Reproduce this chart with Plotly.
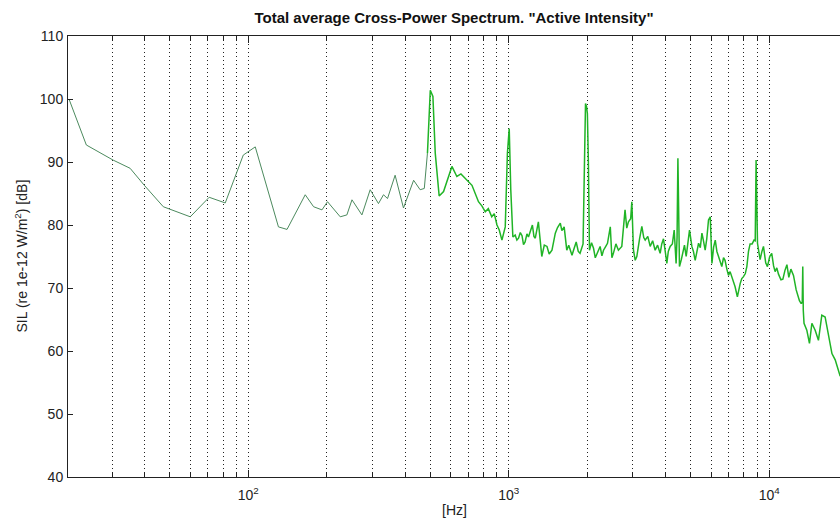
import plotly.graph_objects as go

# ---- data (frequency in Hz, SIL in dB) ----
freq_low = [20.5, 23.9, 30.3, 35.2, 39.9, 47.2, 59.9, 70.8, 81.6, 95.7, 106.4,
            130.6, 140.9, 165.5, 178.2, 191.9, 201.5, 225.5, 239.2, 250.2, 273.2,
            293.9, 316.2, 330.6, 342.6, 366.4, 394.5, 431.5, 457.1, 474.2, 487.6]
sil_low = [100.0, 92.7, 90.3, 89.0, 86.3, 82.9, 81.3, 84.4, 83.5, 91.1, 92.4,
           79.7, 79.3, 84.8, 82.9, 82.4, 83.7, 81.3, 81.6, 84.0, 81.6,
           85.6, 83.4, 84.8, 84.2, 87.9, 82.7, 87.1, 85.6, 85.8, 91.4]

freq_high = [487.6, 500.0, 511.7, 522.4, 540.8, 562.3, 605.3, 632.4, 655.6, 691.8,
             722.8, 765.6, 790, 812.8, 835, 861, 880, 901.6, 920, 941.9, 970.0,
             988.6, 1004.6, 1018.6, 1037.6, 1059, 1075, 1091, 1108, 1125, 1140,
             1156, 1175, 1191, 1210, 1233, 1250, 1265, 1300, 1320, 1340, 1370,
             1403, 1430, 1466, 1510, 1540, 1578, 1600, 1633, 1671, 1700, 1750,
             1780, 1816, 1850, 1879, 1930, 1950, 1972, 1990, 2005, 2023, 2042,
             2080, 2117, 2150, 2182, 2244, 2280, 2312, 2350, 2395, 2455, 2490,
             2523, 2580, 2638, 2718, 2797, 2840, 2882, 2940, 2970, 3013, 3060,
             3104, 3180, 3245, 3300, 3342, 3420, 3493, 3570, 3650, 3730, 3815,
             3870, 3929, 4000, 4047, 4100, 4168, 4250, 4319, 4393, 4430, 4463,
             4526, 4600, 4667, 4730, 4802, 4870, 4946, 5050, 5120, 5200, 5280,
             5358, 5440, 5520, 5600, 5680, 5760, 5850, 5940, 6030, 6120, 6210,
             6300, 6390, 6480, 6580, 6680, 6770, 6880, 6980, 7080, 7190, 7300,
             7400, 7550, 7650, 7740, 7850, 7970, 8100, 8210, 8330, 8450, 8600,
             8750, 8840, 8910, 9020, 9230, 9380, 9510, 9700, 9850, 10050, 10230,
             10400, 10540, 10700, 10860, 11100, 11290, 11500, 11700, 11900, 12120,
             12400, 12700, 13070, 13280, 13400, 13460, 13520, 13610, 13950, 14280,
             14590, 15020, 15460, 15930, 16400, 16900, 17420, 17930, 18460, 18740]
sil_high = [91.4, 101.4, 100.4, 91.4, 84.6, 85.3, 89.3, 87.7, 88.1, 87.1,
            86.3, 83.7, 83.0, 82.1, 82.6, 81.3, 81.8, 80.0, 79.2, 77.6, 79.7,
            91.4, 95.3, 85.6, 78.1, 78.4, 77.6, 77.9, 78.8, 78.3, 76.9,
            77.3, 78.6, 78.1, 79.0, 80.0, 78.2, 77.9, 80.5, 77.0, 75.0, 76.8,
            76.6, 75.4, 76.0, 78.7, 79.6, 80.3, 79.1, 79.7, 76.0, 76.8, 75.2,
            76.2, 77.3, 75.8, 75.5, 77.0, 89.3, 99.3, 98.8, 97.7, 89.8, 76.0,
            77.2, 76.3, 74.8, 75.5, 76.6, 75.1, 76.0, 76.5, 77.1, 79.7, 74.8,
            75.5, 77.0, 76.0, 76.6, 82.4, 79.5, 80.5, 81.0, 83.7, 76.0, 74.4,
            75.0, 77.8, 79.8, 78.0, 77.6, 78.2, 76.6, 77.5, 76.0, 76.8, 75.5,
            77.0, 77.8, 75.5, 73.9, 75.8, 76.6, 77.0, 79.2, 73.9, 78.0, 90.6,
            73.4, 74.5, 75.5, 76.8, 75.0, 77.0, 79.2, 76.6, 75.8, 74.4, 76.0,
            77.1, 76.4, 78.7, 77.4, 76.0, 77.8, 80.8, 81.3, 73.9, 76.5, 77.6,
            75.8, 75.0, 74.6, 73.4, 74.8, 74.4, 73.0, 72.0, 72.6, 71.8, 70.8,
            70.2, 68.6, 69.8, 70.7, 71.5, 71.8, 72.3, 73.4, 75.8, 77.0, 77.0,
            77.6, 77.5, 90.3, 77.1, 74.5, 75.8, 76.6, 74.0, 73.4, 75.0, 75.5,
            73.5, 72.6, 73.2, 72.2, 71.3, 71.4, 72.8, 73.7, 71.7, 73.0,
            72.0, 69.7, 68.0, 67.5, 67.8, 73.4, 66.5, 64.4, 63.3, 61.2,
            64.4, 63.3, 61.7, 65.7, 65.4, 62.3, 59.6, 58.6, 57.0, 56.0]

major_ticks = [100, 1000, 10000]
major_labels = ["10<sup>2</sup>", "10<sup>3</sup>", "10<sup>4</sup>"]
minor_ticks = [30, 40, 50, 60, 70, 80, 90,
               200, 300, 400, 500, 600, 700, 800, 900,
               2000, 3000, 4000, 5000, 6000, 7000, 8000, 9000]
y_ticks = [40, 50, 60, 70, 80, 90, 100, 110]

title_text = 'Total average Cross-Power Spectrum. "Active Intensity"'
x_title = "[Hz]"
y_title = "SIL (re 1e-12 W/m<sup>2</sup>) [dB]"

FONT = "Liberation Sans, Arial, sans-serif"
INK = "#222222"

fig = go.Figure()
fig.add_trace(go.Scatter(x=freq_low, y=sil_low, mode="lines",
                         line=dict(color="#4c8a5e", width=1), showlegend=False))
fig.add_trace(go.Scatter(x=freq_high, y=sil_high, mode="lines",
                         line=dict(color="#20b426", width=1.5), showlegend=False))

fig.update_layout(
    width=840, height=519,
    margin=dict(l=68, r=0, t=36, b=42),
    paper_bgcolor="white", plot_bgcolor="white",
    font=dict(family=FONT, size=14, color=INK),
    title=dict(text="<b>" + title_text + "</b>", x=0.5, xref="paper",
               xanchor="center", y=1 - 18 / 519, yanchor="middle",
               font=dict(family=FONT, size=15, color="#111111")),
    annotations=[
        dict(text=x_title, xref="paper", yref="paper", x=0.5, y=-33 / 441,
             xanchor="center", yanchor="middle", showarrow=False,
             font=dict(family=FONT, size=14, color=INK)),
        dict(text=y_title, xref="paper", yref="paper", x=-47 / 772, y=0.5,
             xanchor="center", yanchor="middle", textangle=-90, showarrow=False,
             font=dict(family=FONT, size=14, color=INK)),
    ],
)

fig.update_xaxes(
    type="log", range=[1.308, 4.272],
    tickmode="array", tickvals=major_ticks, ticktext=major_labels,
    ticks="inside", ticklen=7, tickwidth=1, tickcolor=INK,
    showline=True, linecolor=INK, linewidth=1, mirror="ticks",
    showgrid=True, gridcolor=INK, gridwidth=1, griddash="1px,3px",
    zeroline=False, tickfont=dict(family=FONT, size=14, color=INK),
    ticklabelstandoff=5,
    minor=dict(tickmode="array", tickvals=minor_ticks, ticks="inside",
               ticklen=4, tickcolor=INK, tickwidth=1,
               showgrid=True, gridcolor=INK, gridwidth=1, griddash="1px,3px"),
)
fig.update_yaxes(
    range=[40, 110], tickmode="array", tickvals=y_ticks,
    ticks="inside", ticklen=5, tickwidth=1, tickcolor=INK,
    showline=True, linecolor=INK, linewidth=1, mirror=False,
    showgrid=False, zeroline=False,
    tickfont=dict(family=FONT, size=14, color=INK),
    ticklabelstandoff=1,
)

fig.write_html("out.html",
               config={"displayModeBar": False},
               post_script="document.body.style.margin='0';"
                           "document.body.style.overflow='hidden';")
